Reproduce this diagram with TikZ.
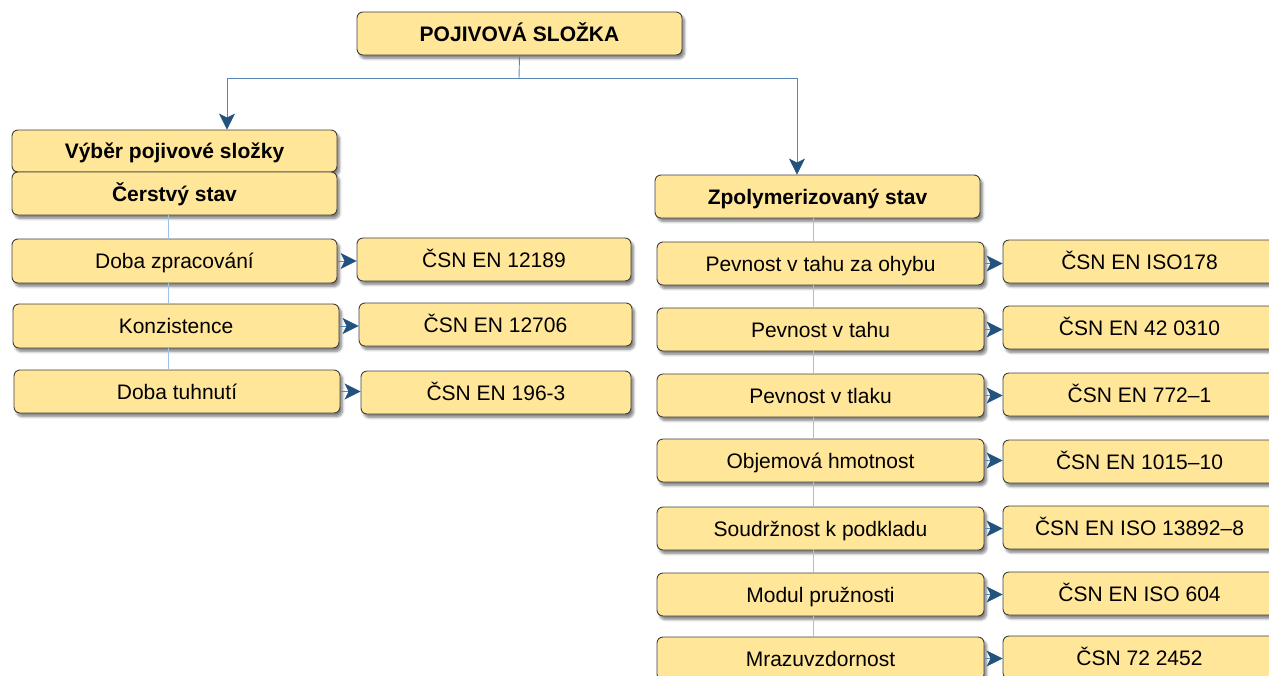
\documentclass[tikz,border=0pt]{standalone}
\usepackage{fontspec}
\setmainfont{Liberation Sans}
\usetikzlibrary{arrows.meta,shadows.blur,calc}

\definecolor{boxfill}{HTML}{FFE699}
\definecolor{boxedge}{HTML}{404040}
\definecolor{trunkblue}{HTML}{9DC3E6}
\definecolor{linkblue}{HTML}{5A86B5}
\definecolor{tipblue}{HTML}{24527F}

\tikzset{
  card/.style={draw=boxedge, line width=0.9pt, fill=boxfill, rounded corners=6pt,
    inner sep=0pt, text height=15pt, text depth=0pt, align=center,
    font=\fontsize{21}{25}\selectfont,
    blur shadow={shadow xshift=2.5pt, shadow yshift=-3.5pt, shadow blur steps=6,
      shadow blur radius=2.5pt, shadow opacity=50}},
  headcard/.style={card, font=\fontsize{21}{25}\selectfont\bfseries},
  itemcard/.style={card, minimum height=43pt},
  trunk/.style={draw=trunkblue, line width=0.9pt},
  link/.style={draw=linkblue, line width=0.9pt},
  feed/.style={draw=linkblue, line width=0.9pt,
    -{Stealth[length=16pt, width=16pt, inset=4pt, color=tipblue]}},
}

\begin{document}
\begin{tikzpicture}[x=1pt, y=-1pt]
\useasboundingbox (0,0) rectangle (1269,675);

\coordinate (split) at (519,78);

% heading cards
\node[headcard, minimum width=325pt, minimum height=43pt] (top) at (519.5,33.5) {POJIVOVÁ SLOŽKA};
\node[headcard, minimum width=325pt, minimum height=42pt] (vyber) at (174.5,151) {Výběr pojivové složky};
\node[headcard, minimum width=325pt, minimum height=43pt] (cerstvy) at (174.5,193.5) {Čerstvý stav};
\node[headcard, minimum width=325pt, minimum height=43pt] (zpol) at (817.5,196.5) {Zpolymerizovaný stav};

% fresh state: properties and standards
\node[itemcard, minimum width=325pt, minimum height=44pt] (doba) at (174.5,261) {Doba zpracování};
\node[itemcard, minimum width=326pt, minimum height=44pt] (konz) at (176,326) {Konzistence};
\node[itemcard, minimum width=326pt] (tuh) at (177,391.5) {Doba tuhnutí};

\node[itemcard, minimum width=274pt] (n1) at (494,259.5) {ČSN EN 12189};
\node[itemcard, minimum width=273pt] (n2) at (495.5,324.5) {ČSN EN 12706};
\node[itemcard, minimum width=270pt] (n3) at (496,392.5) {ČSN EN 196-3};

% cured state: properties and standards
\node[itemcard, minimum width=327pt] (r1) at (820.5,263.5) {Pevnost v tahu za ohybu};
\node[itemcard, minimum width=327pt] (r2) at (820.5,329.5) {Pevnost v tahu};
\node[itemcard, minimum width=327pt] (r3) at (820.5,395.5) {Pevnost v tlaku};
\node[itemcard, minimum width=327pt] (r4) at (820.5,460.5) {Objemová hmotnost};
\node[itemcard, minimum width=327pt] (r5) at (820.5,528.5) {Soudržnost k podkladu};
\node[itemcard, minimum width=327pt] (r6) at (820.5,594.5) {Modul pružnosti};
\node[itemcard, minimum width=327pt] (r7) at (820.5,658.5) {Mrazuvzdornost};

\node[itemcard, minimum width=273pt] (s1) at (1139.5,261.5) {ČSN EN ISO178};
\node[itemcard, minimum width=273pt] (s2) at (1139.5,327.5) {ČSN EN 42 0310};
\node[itemcard, minimum width=273pt] (s3) at (1139.5,394.5) {ČSN EN 772–1};
\node[itemcard, minimum width=273pt] (s4) at (1139.5,461.5) {ČSN EN 1015–10};
\node[itemcard, minimum width=273pt] (s5) at (1139.5,527.5) {ČSN EN ISO 13892–8};
\node[itemcard, minimum width=273pt] (s6) at (1139.5,593.5) {ČSN EN ISO 604};
\node[itemcard, minimum width=273pt] (s7) at (1139.5,657.5) {ČSN 72 2452};

% links from the heading to both branches
\draw[link] (top.south) -- (split);
\draw[feed] (split) -| ([xshift=52.5pt]vyber.north);
\draw[feed] (split) -| ([xshift=-20.5pt]zpol.north);

% trunk lines between the cards
\draw[trunk] ([xshift=-6.5pt]cerstvy.south) -- ([xshift=-6.5pt]cerstvy.south |- doba.north);
\draw[trunk] ([xshift=-6.5pt]cerstvy.south |- doba.south) -- ([xshift=-6.5pt]cerstvy.south |- konz.north);
\draw[trunk] ([xshift=-6.5pt]cerstvy.south |- konz.south) -- ([xshift=-6.5pt]cerstvy.south |- tuh.north);

\foreach \a/\b in {zpol/r1, r1/r2, r2/r3, r3/r4, r4/r5, r5/r6, r6/r7}
  \draw[trunk] ([xshift=-4.5pt]zpol.south |- \a.south) -- ([xshift=-4.5pt]zpol.south |- \b.north);

% property to standard arrows
\foreach \p/\s in {doba/n1, konz/n2, tuh/n3, r1/s1, r2/s2, r3/s3, r4/s4, r5/s5, r6/s6, r7/s7}
  \draw[feed] (\p.east) -- (\p.east -| \s.west);
\end{tikzpicture}
\end{document}
